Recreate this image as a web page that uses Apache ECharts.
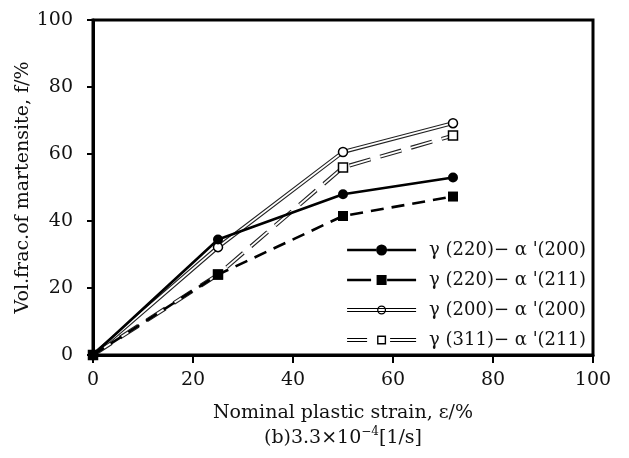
<!DOCTYPE html>
<html>
<head>
<meta charset="utf-8">
<script src="https://cdn.jsdelivr.net/npm/echarts@6/dist/echarts.min.js"></script>
<style>
  html, body { margin: 0; padding: 0; background: #fff; }
  #chart { width: 629px; height: 458px; }
</style>
</head>
<body>
<div id="chart"></div>
<script>
// Nominal plastic strain (%) at each measurement
var strain = [0, 25, 50, 72];

// Volume fraction of martensite (%) from each peak pair
var g220a200 = [0, 34.5, 48.0, 53.0];
var g220a211 = [0, 24.0, 41.5, 47.3];
var g200a200 = [0, 32.2, 60.6, 69.2];
var g311a211 = [0, 24.0, 56.0, 65.5];

var seriesNames = [
  "\u03b3 (220)\u2212 \u03b1 '(200)",
  "\u03b3 (220)\u2212 \u03b1 '(211)",
  "\u03b3 (200)\u2212 \u03b1 '(200)",
  "\u03b3 (311)\u2212 \u03b1 '(211)"
];

var xTicks = [0, 20, 40, 60, 80, 100];
var yTicks = [0, 20, 40, 60, 80, 100];

function pairs(ys) {
  return strain.map(function (x, i) { return [x, ys[i]]; });
}

var FONT = 'DejaVu Serif';

// Legend icons (69 x 11 boxes): line sample with marker in the middle
var iconSolidCircle = 'path://M0,4.2H29V6.8H0Z M40,4.2H69V6.8H40Z M29,5.5A5.5,5.5 0 1,1 40,5.5A5.5,5.5 0 1,1 29,5.5Z';
var iconDashSquare = 'path://M0,4.2H24V6.8H0Z M40,4.2H69V6.8H40Z M29.5,0.5H39.5V10.5H29.5Z M0,0L0,0Z M69,11L69,11Z';
var iconDoubleCircle = 'path://M0,3.5H69V4.6H0Z M0,6.4H69V7.5H0Z ' +
  'M30,5.5A4.5,4.5 0 1,1 39,5.5A4.5,4.5 0 1,1 30,5.5Z ' +
  'M31.3,5.5A3.2,3.2 0 1,0 37.7,5.5A3.2,3.2 0 1,0 31.3,5.5Z M0,0L0,0Z M69,11L69,11Z';
var iconDoubleSquare = 'path://M0,3.5H20V4.6H0Z M0,6.4H20V7.5H0Z M43,3.5H69V4.6H43Z M43,6.4H69V7.5H43Z ' +
  'M30,1H39V10H30Z M31.4,8.6H37.6V2.4H31.4Z M0,0L0,0Z M69,11L69,11Z';

var chart = echarts.init(document.getElementById('chart'), null, { renderer: 'canvas' });

chart.setOption({
  backgroundColor: '#fff',
  animation: false,
  grid: {
    left: 93, right: 36, top: 20, bottom: 103,
    show: true, borderColor: '#000', borderWidth: 3, backgroundColor: 'transparent'
  },
  legend: {
    orient: 'vertical',
    right: 38,
    top: 236,
    itemWidth: 69,
    itemHeight: 11,
    itemGap: 12,
    symbolKeepAspect: false,
    textStyle: { fontFamily: FONT, fontSize: 18, color: '#111', padding: [0, 0, 0, 8] },
    data: [
      { name: seriesNames[0], icon: iconSolidCircle },
      { name: seriesNames[1], icon: iconDashSquare },
      { name: seriesNames[2], icon: iconDoubleCircle },
      { name: seriesNames[3], icon: iconDoubleSquare }
    ]
  },
  xAxis: {
    type: 'value',
    min: 0, max: 100, interval: 20,
    name: 'Nominal plastic strain, \u03b5/%\n(b)3.3\u00d710{sup|\u22124}[1/s]',
    nameLocation: 'middle',
    nameGap: 46,
    nameMoveOverlap: false,
    nameTextStyle: {
      fontFamily: FONT, fontSize: 19, color: '#111', lineHeight: 25,
      rich: { sup: { fontFamily: FONT, fontSize: 12, color: '#111', verticalAlign: 'top', padding: [0, 0, 10, 0] } }
    },
    axisLine: { lineStyle: { color: '#000', width: 3 } },
    axisTick: { inside: false, length: 8, lineStyle: { color: '#000', width: 2 } },
    axisLabel: {
      margin: 16, fontFamily: FONT, fontSize: 19, color: '#111',
      formatter: function (v) { return xTicks.indexOf(v) >= 0 ? String(v) : ''; }
    },
    splitLine: { show: false }
  },
  yAxis: {
    type: 'value',
    min: 0, max: 100, interval: 20,
    name: 'Vol.frac.of martensite, f/%',
    nameLocation: 'middle',
    nameGap: 60,
    nameMoveOverlap: false,
    nameTextStyle: { fontFamily: FONT, fontSize: 19, color: '#111' },
    axisLine: { lineStyle: { color: '#000', width: 3 } },
    axisTick: { inside: false, length: 6, lineStyle: { color: '#000', width: 2 } },
    axisLabel: {
      margin: 20, fontFamily: FONT, fontSize: 19, color: '#111',
      formatter: function (v) { return yTicks.indexOf(v) >= 0 ? String(v) : ''; }
    },
    splitLine: { show: false }
  },
  series: [
    // double line, open circles: dark outline under a white core
    {
      name: seriesNames[2], type: 'line', data: pairs(g200a200),
      symbol: 'none', itemStyle: { color: '#000' },
      lineStyle: { color: '#222', width: 4 }
    },
    {
      name: 'core-200', type: 'line', data: pairs(g200a200),
      symbol: 'circle', symbolSize: 9,
      itemStyle: { color: '#fff', borderColor: '#000', borderWidth: 1.5 },
      lineStyle: { color: '#fff', width: 1.8 }
    },
    // double dashed line, open squares
    {
      name: seriesNames[3], type: 'line', data: pairs(g311a211),
      symbol: 'none', itemStyle: { color: '#000' },
      lineStyle: { color: '#222', width: 4, type: [22, 10] }
    },
    {
      name: 'core-311', type: 'line', data: pairs(g311a211),
      symbol: 'rect', symbolSize: 9,
      itemStyle: { color: '#fff', borderColor: '#000', borderWidth: 1.5 },
      lineStyle: { color: '#fff', width: 1.8, type: [22, 10] }
    },
    {
      name: seriesNames[1], type: 'line', data: pairs(g220a211),
      symbol: 'rect', symbolSize: 10,
      itemStyle: { color: '#000', borderWidth: 0 },
      lineStyle: { color: '#000', width: 2.6, type: [13, 8] }
    },
    {
      name: seriesNames[0], type: 'line', data: pairs(g220a200),
      symbol: 'circle', symbolSize: 10,
      itemStyle: { color: '#000', borderWidth: 0 },
      lineStyle: { color: '#000', width: 2.6 }
    }
  ]
});
</script>
</body>
</html>
